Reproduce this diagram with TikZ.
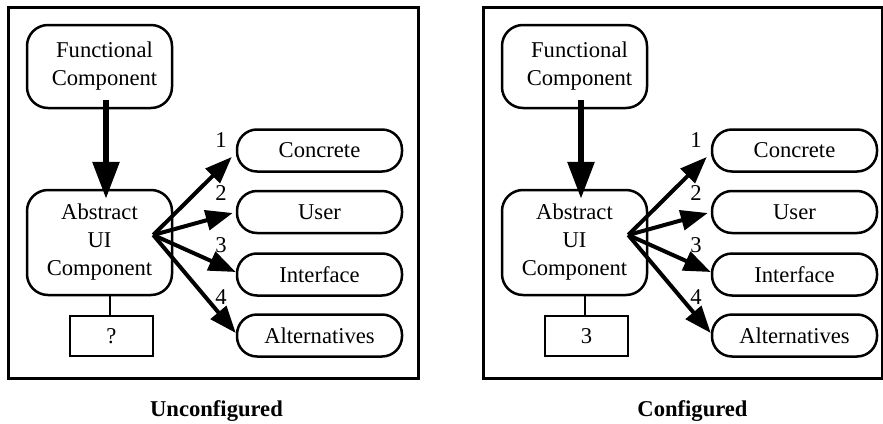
\documentclass[tikz,border=0pt]{standalone}
\usepackage{fontspec}
\setmainfont{Liberation Serif}
\usetikzlibrary{arrows.meta,calc}
\tikzset{
  every node/.style={font=\fontsize{22.6pt}{28pt}\selectfont},
  frame/.style={draw, line width=3pt},
  rbox/.style={draw, line width=2.5pt, rounded corners=21pt, minimum width=145pt, align=center, inner sep=0pt},
  stad/.style={draw, line width=2.5pt, rounded corners=20pt, minimum width=165pt, minimum height=42pt, inner sep=0pt},
  qbox/.style={draw, line width=2.5pt, minimum width=83pt, minimum height=40pt, inner sep=0pt},
  num/.style={inner sep=0pt},
  bigarrow/.style={line width=6pt, -{Triangle[length=37pt,width=26pt]}},
  fanarrow/.style={line width=4pt, -{Triangle[length=27pt,width=20pt]}},
  stub/.style={line width=2.5pt},
  caption/.style={anchor=base, font=\fontsize{22.6pt}{28pt}\selectfont\bfseries}
}
\newcommand\mypanel[4]{%
\begin{scope}[xshift=#2pt]
  \draw[frame] (8,7) rectangle (#4,378);
  \node[rbox, minimum height=83pt] (#1func) at (99.5,66.5) {\hspace*{10pt}Functional\\\hspace*{10pt}Component};
  \node[rbox, minimum height=105pt] (#1abs) at (99.5,242.5) {Abstract\\UI\\Component};
  \node[qbox] (#1q) at (111.5,336) {#3};
  \node[stad] (#1c1) at (319.5,150.5) {Concrete};
  \node[stad] (#1c2) at (319.5,212) {User};
  \node[stad] (#1c3) at (319.5,274.5) {Interface};
  \node[stad] (#1c4) at (319.5,335.5) {Alternatives};
  \coordinate (#1fan) at ($(#1abs.east)+(-20,-7.5)$);
  \draw[bigarrow] ($(#1func.south)+(6.5,-9)$) -- ($(#1abs.north)+(6.5,10)$);
  \draw[stub] ([xshift=10.5pt]#1abs.south) -- ([xshift=10.5pt]#1abs.south |- #1q.north);
  \draw[fanarrow] (#1fan) -- ($(#1c1.west)+(-4,6.5)$);
  \draw[fanarrow] (#1fan) -- ($(#1c2.west)+(-3,1)$);
  \draw[fanarrow] (#1fan) -- ($(#1c3.west)+(0,-2.5)$);
  \draw[fanarrow] (#1fan) -- ($(#1c4.west)+(0,-2.5)$);
  \node[num] (#1n1) at (221,140) {1};
  \node[num] (#1n2) at (221,193) {2};
  \node[num] (#1n3) at (221,245) {3};
  \node[num] (#1n4) at (221,297) {4};
\end{scope}}
\begin{document}
\begin{tikzpicture}[x=1pt,y=-1pt]
  \useasboundingbox (0,0) rectangle (883,423);
  \mypanel{L}{0}{?}{418}
  \mypanel{R}{475}{3}{407}
  \node[caption] (capL) at (216.5,416.7) {Unconfigured};
  \node[caption] (capR) at (692.5,416.7) {Configured};
\end{tikzpicture}
\end{document}
